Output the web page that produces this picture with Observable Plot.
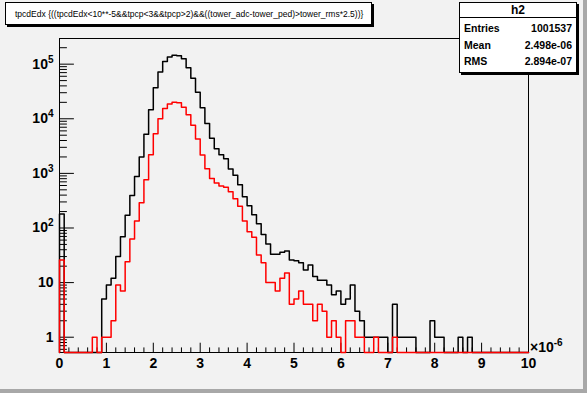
<!DOCTYPE html>
<html><head><meta charset="utf-8">
<script src="https://cdn.jsdelivr.net/npm/d3@7"></script>
<script src="https://cdn.jsdelivr.net/npm/@observablehq/plot@0.6"></script>
<style>
html,body{margin:0;padding:0;background:#f2f2f2;}
#c{position:relative;width:587px;height:393px;overflow:hidden;background:#f2f2f2;font-family:"Liberation Sans",Arial,Helvetica,sans-serif;}
#plot{position:absolute;left:0;top:0;}
#c svg{display:block;}
.edge-r{position:absolute;right:0;top:0;width:4px;height:393px;background:#a8a8a8;}
.edge-b{position:absolute;left:0;bottom:0;width:587px;height:4px;background:#a8a8a8;}
#title{position:absolute;left:5px;top:2px;width:365px;height:21px;border:1px solid #000;background:#fff;box-shadow:2px 2px 0 #000;}
#title span{position:absolute;left:9px;top:50%;transform:translateY(-50%);white-space:nowrap;font-size:10px;color:#000;}
#stats{position:absolute;left:459px;top:2px;width:116px;height:69px;border:1px solid #000;background:#fff;box-shadow:2px 2px 0 #000;font-weight:bold;color:#000;}
#stats .hd{position:absolute;left:0;top:0;width:100%;height:14px;border-bottom:1px solid #000;text-align:center;font-size:12px;line-height:14px;}
#stats .row{position:absolute;left:4px;right:4px;height:14px;font-size:10.5px;line-height:14px;}
#stats .row .k{position:absolute;left:0;}
#stats .row .v{position:absolute;right:0;}
#mult{position:absolute;left:530px;top:339px;font-weight:bold;font-size:14px;color:#000;white-space:nowrap;}
#mult sup{font-size:10px;vertical-align:0;position:relative;top:-6px;}
</style>
</head><body>
<div id="c">
  <div id="plot"></div>
  <div id="title"><span id="ttext">tpcdEdx {((tpcdEdx&lt;10**-5&amp;&amp;tpcp&lt;3&amp;&amp;tpcp&gt;2)&amp;&amp;((tower_adc-tower_ped)&gt;tower_rms*2.5))}</span></div>
  <div id="stats">
    <div class="hd">h2</div>
    <div class="row" style="top:18px"><span class="k">Entries</span><span class="v">1001537</span></div>
    <div class="row" style="top:35px"><span class="k">Mean</span><span class="v">2.498e-06</span></div>
    <div class="row" style="top:51px"><span class="k">RMS</span><span class="v">2.894e-07</span></div>
  </div>
  <div id="mult">×10<sup>-6</sup></div>
  <div class="edge-r"></div>
  <div class="edge-b"></div>
</div>
<script>
// Histogram: 100 bins from 0 to 10 (×10^-6), bin width 0.1
const binWidth = 0.1;
const blackCounts = [
  180, 0, 0, 0, 0, 0, 0, 0, 0, 5,
  9, 12, 30, 69, 171, 394, 875, 2000, 5200, 14600,
  37000, 72000, 112000, 135000, 146000, 143000, 126000, 86000, 55000, 30700,
  15900, 8200, 4400, 2830, 2200, 1850, 1200, 927, 620, 372,
  255, 174, 119, 76, 51, 33, 33, 36, 38, 26,
  25, 23, 17, 21, 13, 11, 11, 9, 6, 7,
  4, 5, 9, 3, 2, 1, 1, 1, 1, 1,
  0, 4, 1, 1, 1, 1, 0, 0, 0, 2,
  1, 1, 0, 0, 0, 1, 0, 1, 0, 0,
  0, 0, 0, 0, 0, 0, 0, 0, 0, 0
];
const redCounts = [
  26, 0, 0, 0, 0, 0, 0, 1, 0, 1,
  1, 2, 9, 7, 24, 63, 135, 290, 765, 2200,
  5300, 10000, 15500, 18600, 20000, 19600, 16200, 11900, 7600, 4280,
  2170, 1210, 805, 665, 590, 560, 460, 343, 251, 135,
  85, 68, 32, 23, 10, 10, 7, 12, 15, 4,
  5, 7, 4, 4, 2, 4, 3, 1, 2, 1,
  0, 2, 2, 1, 1, 0, 0, 1, 0, 0,
  0, 1, 0, 0, 0, 0, 0, 0, 0, 0,
  0, 0, 0, 0, 0, 0, 0, 0, 0, 0,
  0, 0, 0, 0, 0, 0, 0, 0, 0, 0
];
const xTickLabels = [0, 1, 2, 3, 4, 5, 6, 7, 8, 9, 10];
const yDecades = [1, 10, 100, 1000, 10000, 100000];
const xDomain = [0, 10];
const yDomain = [0.525, 2.95e5];

const yMin = yDomain[0];
function stepPoints(counts) {
  const pts = [{x: 0, y: yMin}];
  counts.forEach((c, i) => pts.push({x: i * binWidth, y: c > 0 ? c : yMin}));
  const last = counts[counts.length - 1];
  pts.push({x: counts.length * binWidth, y: last > 0 ? last : yMin});
  pts.push({x: counts.length * binWidth, y: yMin});
  return pts;
}
const blackPts = stepPoints(blackCounts);
const redPts = stepPoints(redCounts);

// tick positions
const xMinor = d3.range(0, 50).map(i => i * 0.2).filter(v => Math.abs(v - Math.round(v)) > 1e-9);
const yMinor = [];
for (let e = -1; e <= 5; e++) for (let m = 2; m <= 9; m++) {
  const v = m * Math.pow(10, e);
  if (v > yDomain[0] && v < yDomain[1]) yMinor.push(v);
}
const tickShape = {draw(context, l) { context.moveTo(0, 0); context.lineTo(0, -l); }};
const yFmt = d => d === 1 ? "1" : d === 10 ? "10" : "10^" + Math.round(Math.log10(d));

const chart = Plot.plot({
  width: 587,
  height: 393,
  marginLeft: 59,
  marginRight: 59,
  marginTop: 38,
  marginBottom: 41,
  style: {background: "transparent", fontFamily: "'Liberation Sans', Arial, Helvetica, sans-serif", overflow: "visible"},
  x: {domain: xDomain, label: null},
  y: {type: "log", domain: yDomain, label: null},
  marks: [
    Plot.frame({stroke: "#000", strokeWidth: 1}),
    Plot.axisX({ticks: xTickLabels, tickSize: 0, tickPadding: 6, tickFormat: d => String(d), fontSize: 14, fontWeight: "bold", fill: "#000", label: null}),
    Plot.axisY({ticks: yDecades, tickSize: 0, tickPadding: 6, tickFormat: yFmt, fontSize: 14, fontWeight: "bold", fill: "#000", label: null}),
    Plot.vector(xTickLabels, {x: d => d, y: () => yMin, length: 9.4, rotate: 0, anchor: "start", shape: tickShape, stroke: "#000", strokeWidth: 1}),
    Plot.vector(xMinor, {x: d => d, y: () => yMin, length: 4.7, rotate: 0, anchor: "start", shape: tickShape, stroke: "#000", strokeWidth: 1}),
    Plot.vector(yDecades, {x: () => xDomain[0], y: d => d, length: 14, rotate: 90, anchor: "start", shape: tickShape, stroke: "#000", strokeWidth: 1}),
    Plot.vector(yMinor, {x: () => xDomain[0], y: d => d, length: 7, rotate: 90, anchor: "start", shape: tickShape, stroke: "#000", strokeWidth: 1}),
    Plot.line(blackPts, {x: "x", y: "y", curve: "step-after", stroke: "#000", strokeWidth: 1.5}),
    Plot.line(redPts, {x: "x", y: "y", curve: "step-after", stroke: "#ff0000", strokeWidth: 1.5})
  ]
});
document.getElementById("plot").appendChild(chart);

// superscript exponents on y tick labels
chart.querySelectorAll('g[aria-label="y-axis tick label"] text').forEach(t => {
  const s = t.textContent;
  if (s.includes("^")) {
    const [base, exp] = s.split("^");
    while (t.firstChild) t.removeChild(t.firstChild);
    t.appendChild(document.createTextNode(base));
    const sup = document.createElementNS("http://www.w3.org/2000/svg", "tspan");
    sup.setAttribute("font-size", "10");
    sup.setAttribute("dy", "-6");
    sup.textContent = exp;
    t.appendChild(sup);
  }
});

// fit title text width
const tt = document.getElementById("ttext");
const target = 349;
const w = tt.getBoundingClientRect().width;
if (w > 0) tt.style.fontSize = (10 * target / w).toFixed(2) + "px";
</script>
</body></html>
